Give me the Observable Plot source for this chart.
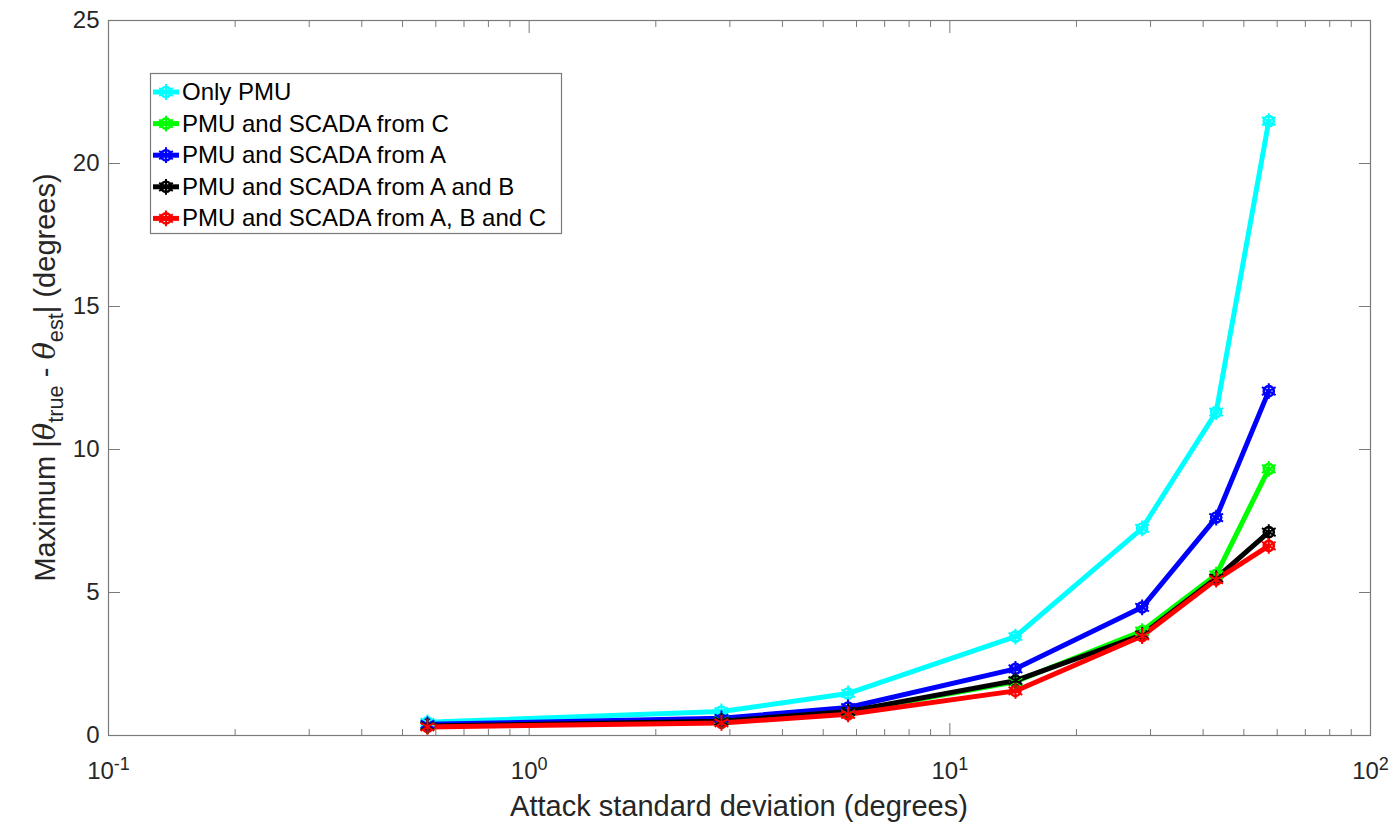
<!DOCTYPE html>
<html>
<head>
<meta charset="utf-8">
<script src="https://cdn.jsdelivr.net/npm/d3@7"></script>
<script src="https://cdn.jsdelivr.net/npm/@observablehq/plot@0.6"></script>
<style>
  html, body { margin: 0; padding: 0; background: white; }
  #wrap { position: relative; width: 1399px; height: 826px; overflow: hidden; }
  #legend { position: absolute; left: 0; top: 0; }
</style>
</head>
<body>
<div id="wrap"></div>
<script>
// ---- data ----
const attackStd = [0.573, 2.865, 5.73, 14.32, 28.65, 42.97, 57.3];
const seriesNames = [
  "Only PMU",
  "PMU and SCADA from C",
  "PMU and SCADA from A",
  "PMU and SCADA from A and B",
  "PMU and SCADA from A, B and C"
];
const seriesColors = ["#00ffff", "#00ff00", "#0000ff", "#000000", "#ff0000"];
const onlyPMU   = [0.46, 0.84, 1.47, 3.46, 7.24, 11.31, 21.48];
const scadaC    = [0.35, 0.52, 0.82, 1.88, 3.65, 5.62, 9.32];
const scadaA    = [0.39, 0.60, 0.98, 2.33, 4.48, 7.62, 12.04];
const scadaAB   = [0.33, 0.50, 0.84, 1.92, 3.52, 5.50, 7.11];
const scadaABC  = [0.30, 0.44, 0.74, 1.56, 3.48, 5.45, 6.63];
const seriesValues = [onlyPMU, scadaC, scadaA, scadaAB, scadaABC];
const xMajorTicks = [0.1, 1, 10, 100];
const xMinorTicks = [2,3,4,5,6,7,8,9].flatMap(m => [0.1, 1, 10].map(d => m * d));
const yTicks = [0, 5, 10, 15, 20, 25];

const rows = seriesNames.flatMap((s, i) =>
  attackStd.map((x, j) => ({series: s, x, y: seriesValues[i][j]})));

const axisColor = "#7a7a7a";
const textColor = "#262626";
const font = "'Liberation Sans', Arial, Helvetica, sans-serif";

const W = 1399, H = 826;
const mL = 108, mR = 29, mT = 20, mB = 91;

const chart = Plot.plot({
  width: W, height: H,
  marginLeft: mL, marginRight: mR, marginTop: mT, marginBottom: mB,
  style: {fontFamily: font, fontSize: "24px", color: textColor, background: "white", overflow: "visible"},
  x: {type: "log", domain: [0.1, 100], label: null},
  y: {domain: [0, 25], label: null},
  color: {domain: seriesNames, range: seriesColors},
  marks: [
    Plot.frame({stroke: axisColor, strokeWidth: 1.2}),
    // y axis labels + inward ticks
    Plot.axisY(yTicks, {anchor: "left", tickSize: 0, tickPadding: 9, fontSize: 24, fill: textColor, label: null}),
    Plot.axisY(yTicks, {anchor: "left", tickSize: -12, fill: "none", stroke: axisColor, label: null}),
    Plot.axisY(yTicks, {anchor: "right", tickSize: -12, fill: "none", stroke: axisColor, label: null}),
    // x axis labels + inward ticks (major + minor), mirrored on top
    Plot.axisX(xMajorTicks, {anchor: "bottom", tickSize: 0, tickPadding: 26, fontSize: 24, fill: textColor, tickFormat: d => String(Math.round(Math.log10(d))), label: null}),
    Plot.axisX(xMajorTicks, {anchor: "bottom", tickSize: -12, fill: "none", stroke: axisColor, label: null}),
    Plot.axisX(xMinorTicks, {anchor: "bottom", tickSize: -6, fill: "none", stroke: axisColor, label: null}),
    Plot.axisX(xMajorTicks, {anchor: "top", tickSize: -12, fill: "none", stroke: axisColor, label: null}),
    Plot.axisX(xMinorTicks, {anchor: "top", tickSize: -6, fill: "none", stroke: axisColor, label: null}),
    // data
    Plot.line(rows, {x: "x", y: "y", z: "series", stroke: "series", strokeWidth: 5}),
    Plot.dot(rows, {x: "x", y: "y", stroke: "series", symbol: "circle", r: 5, strokeWidth: 2.6, fill: "none"}),
    Plot.dot(rows, {x: "x", y: "y", stroke: "series", symbol: "asterisk", r: 7.5, strokeWidth: 2})
  ]
});

document.getElementById("wrap").appendChild(chart);
const svg = d3.select(chart);

// remove any stray empty tick-label texts, then superscript the exponents
svg.selectAll('g[aria-label="x-axis tick label"] text').each(function() {
  const t = d3.select(this);
  const e = t.text();
  if (e.trim() === "" || !/^-?\d+$/.test(e.trim())) { t.remove(); return; }
  t.text("");
  t.append("tspan").text("10");
  t.append("tspan").attr("dy", "-0.5em").attr("font-size", "0.75em").text(e.trim());
});

// x axis title
svg.append("text")
  .attr("x", mL + (W - mL - mR) / 2)
  .attr("y", 816)
  .attr("text-anchor", "middle")
  .attr("font-size", 29)
  .attr("fill", textColor)
  .attr("font-family", font)
  .text("Attack standard deviation (degrees)");

// y axis title with subscripts
const yl = svg.append("text")
  .attr("transform", `translate(55, ${mT + (H - mT - mB) / 2}) rotate(-90)`)
  .attr("text-anchor", "middle")
  .attr("font-size", 29)
  .attr("fill", textColor)
  .attr("font-family", font);
yl.append("tspan").text("Maximum |");
yl.append("tspan").attr("font-style", "italic").attr("font-family", "'DejaVu Serif', serif").text("\u03B8");
yl.append("tspan").attr("font-size", "0.75em").attr("dy", "0.35em").text("true");
yl.append("tspan").attr("dy", "-0.26em").text(" - ");
yl.append("tspan").attr("font-style", "italic").attr("font-family", "'DejaVu Serif', serif").text("\u03B8");
yl.append("tspan").attr("font-size", "0.75em").attr("dy", "0.35em").text("est");
yl.append("tspan").attr("dy", "-0.26em").text("| (degrees)");

// legend (inside the axes, top-left)
const lg = d3.select("#wrap").append("svg")
  .attr("id", "legend")
  .attr("width", W).attr("height", H)
  .style("pointer-events", "none");
const lx = 150, ly = 73, lw = 411, lh = 160, rowH = 31.6, firstBase = 100;
lg.append("rect").attr("x", lx + 0.5).attr("y", ly + 0.5).attr("width", lw).attr("height", lh)
  .attr("fill", "white").attr("stroke", axisColor).attr("stroke-width", 1.2);
const star = d3.symbol(d3.symbolAsterisk, 7.5 * 7.5 * Math.PI)();
seriesNames.forEach((name, i) => {
  const base = firstBase + i * rowH;
  const cy = base - 8;
  const g = lg.append("g");
  g.append("line").attr("x1", 153).attr("x2", 179).attr("y1", cy).attr("y2", cy)
    .attr("stroke", seriesColors[i]).attr("stroke-width", 5);
  g.append("circle").attr("cx", 166).attr("cy", cy).attr("r", 5).attr("fill", "none")
    .attr("stroke", seriesColors[i]).attr("stroke-width", 2.6);
  g.append("path").attr("d", star).attr("transform", `translate(166,${cy})`)
    .attr("stroke", seriesColors[i]).attr("stroke-width", 2).attr("fill", "none");
  g.append("text").attr("x", 182).attr("y", base)
    .attr("font-family", font).attr("font-size", 24).attr("fill", "#000")
    .text(name);
});
</script>
</body>
</html>
